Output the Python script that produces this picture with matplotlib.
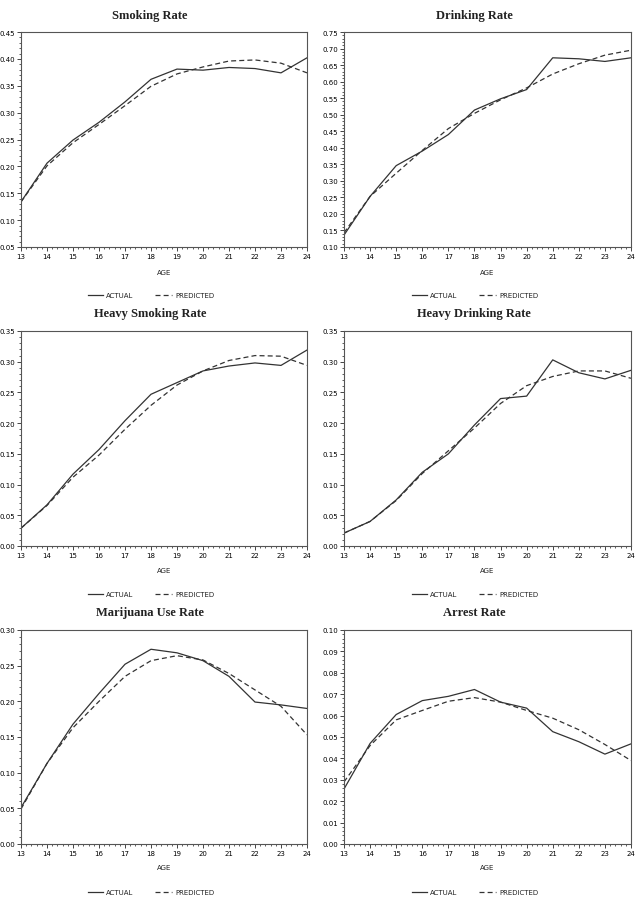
import matplotlib
matplotlib.use("Agg")
import matplotlib.pyplot as plt
from matplotlib.lines import Line2D
from matplotlib.ticker import MultipleLocator, AutoMinorLocator

ages = [13, 14, 15, 16, 17, 18, 19, 20, 21, 22, 23, 24]

titles = ["Smoking Rate", "Drinking Rate", "Heavy Smoking Rate",
          "Heavy Drinking Rate", "Marijuana Use Rate", "Arrest Rate"]

smoking_actual = [0.134, 0.206, 0.249, 0.282, 0.320, 0.362, 0.381, 0.379, 0.384, 0.382, 0.374, 0.402]
smoking_pred = [0.134, 0.201, 0.244, 0.278, 0.313, 0.349, 0.372, 0.385, 0.396, 0.398, 0.392, 0.374]

drinking_actual = [0.136, 0.253, 0.346, 0.390, 0.440, 0.514, 0.548, 0.576, 0.672, 0.669, 0.661, 0.672]
drinking_pred = [0.143, 0.253, 0.323, 0.392, 0.458, 0.504, 0.545, 0.581, 0.623, 0.654, 0.680, 0.695]

heavy_smoking_actual = [0.029, 0.067, 0.117, 0.157, 0.204, 0.247, 0.266, 0.285, 0.293, 0.298, 0.294, 0.319]
heavy_smoking_pred = [0.029, 0.066, 0.112, 0.148, 0.190, 0.229, 0.262, 0.285, 0.302, 0.310, 0.309, 0.294]

heavy_drinking_actual = [0.021, 0.040, 0.075, 0.120, 0.150, 0.197, 0.240, 0.244, 0.303, 0.282, 0.272, 0.286]
heavy_drinking_pred = [0.021, 0.040, 0.074, 0.118, 0.155, 0.192, 0.232, 0.261, 0.276, 0.285, 0.285, 0.273]

marijuana_actual = [0.051, 0.113, 0.168, 0.211, 0.252, 0.273, 0.268, 0.257, 0.235, 0.199, 0.195, 0.190]
marijuana_pred = [0.049, 0.113, 0.163, 0.200, 0.235, 0.257, 0.264, 0.258, 0.239, 0.216, 0.193, 0.153]

arrest_actual = [0.0257, 0.0470, 0.0605, 0.0670, 0.0690, 0.0722, 0.0663, 0.0635, 0.0525, 0.0478, 0.0420, 0.0468]
arrest_pred = [0.0290, 0.0460, 0.0580, 0.0624, 0.0667, 0.0684, 0.0663, 0.0624, 0.0588, 0.0534, 0.0465, 0.0390]

actual_series = [smoking_actual, drinking_actual, heavy_smoking_actual,
                 heavy_drinking_actual, marijuana_actual, arrest_actual]
pred_series = [smoking_pred, drinking_pred, heavy_smoking_pred,
               heavy_drinking_pred, marijuana_pred, arrest_pred]

y_limits = [(0.05, 0.45), (0.10, 0.75), (0.00, 0.35), (0.00, 0.35), (0.00, 0.30), (0.00, 0.10)]
y_steps = [0.05, 0.05, 0.05, 0.05, 0.05, 0.01]

W, H = 636, 920
fig = plt.figure(figsize=(W / 100, H / 100), dpi=100)

col_left = [21, 344]
col_right = [307, 631]
row_top = [33, 332, 631]
row_bottom = [248, 547, 845]
title_y = [16, 314, 613]
agelab_y = [273, 571, 868]
legend_y = [296, 595, 893]
title_x = [150, 474]

line_color = "#333333"

for i in range(6):
    r, c = divmod(i, 2)
    l = col_left[c] / W
    b = 1 - row_bottom[r] / H
    w = (col_right[c] - col_left[c]) / W
    h = (row_bottom[r] - row_top[r]) / H
    ax = fig.add_axes([l, b, w, h])
    ax.plot(ages, actual_series[i], color=line_color, lw=0.9, ls="-")
    ax.plot(ages, pred_series[i], color=line_color, lw=0.9, ls=(0, (4, 2.5)))
    ax.set_xlim(13, 24)
    ax.set_ylim(*y_limits[i])
    ax.xaxis.set_major_locator(MultipleLocator(1))
    ax.xaxis.set_minor_locator(AutoMinorLocator(5))
    ax.yaxis.set_major_locator(MultipleLocator(y_steps[i]))
    ax.yaxis.set_minor_locator(AutoMinorLocator(5))
    fmt = "{:.2f}"
    ax.set_yticklabels([fmt.format(v) for v in ax.get_yticks()])
    ax.tick_params(which="major", direction="out", length=3, width=0.7,
                   labelsize=5, pad=1, color="#444444")
    ax.tick_params(which="minor", direction="out", length=1.5, width=0.6,
                   color="#444444")
    for sp in ax.spines.values():
        sp.set_color("#555555")
        sp.set_linewidth(0.8)
    ax.set_ylim(*y_limits[i])

    fig.text(title_x[c] / W, 1 - title_y[r] / H, titles[i], ha="center", va="center",
             fontsize=9, fontweight="bold", family="Liberation Serif", color="#222222")
    xc = (col_left[c] + col_right[c]) / 2
    fig.text(xc / W, 1 - agelab_y[r] / H, "AGE", ha="center", va="center",
             fontsize=5, color="#222222")
    # legend
    ly = 1 - legend_y[r] / H
    base = 88 if c == 0 else 412
    fig.add_artist(Line2D([base / W, (base + 15) / W], [ly, ly], color=line_color,
                          lw=0.9, transform=fig.transFigure))
    fig.text((base + 18) / W, ly, "ACTUAL", ha="left", va="center", fontsize=5, color="#222222")
    pb = base + 67
    fig.add_artist(Line2D([pb / W, (pb + 17) / W], [ly, ly], color=line_color,
                          lw=0.9, ls=(0, (4, 2.5)), transform=fig.transFigure))
    fig.text((pb + 20) / W, ly, "PREDICTED", ha="left", va="center", fontsize=5, color="#222222")

fig.savefig("out.png", dpi=100, facecolor="white")
